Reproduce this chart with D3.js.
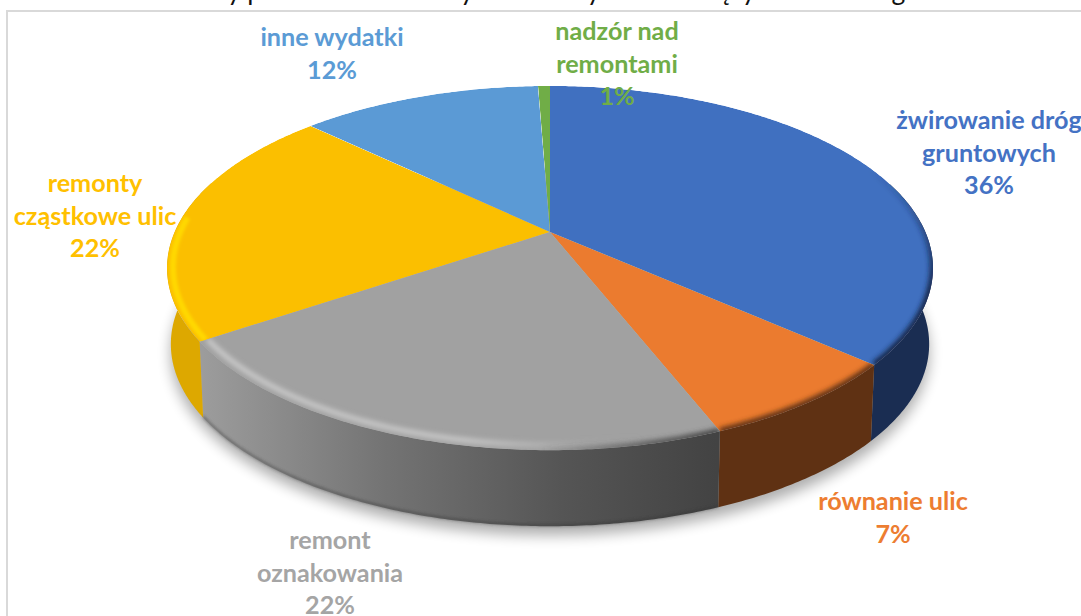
<!DOCTYPE html>
<html><head><meta charset="utf-8">
<script src="https://cdnjs.cloudflare.com/ajax/libs/d3/7.8.5/d3.min.js"></script>
<style>html,body{margin:0;padding:0;background:#fff;overflow:hidden}svg{display:block}text{font-family:Lato,"Open Sans",sans-serif}</style>
</head><body><div id="c"></div>
<script>
const titleText = "Procentowy podział kosztów wydatkowanych na bieżący remont dróg i mostów";
const categories = [["żwirowanie dróg","gruntowych"],["równanie ulic"],["remont","oznakowania"],["remonty","cząstkowe ulic"],["inne wydatki"],["nadzór nad","remontami"]];
const shares = [36.49,7.49,21.61,21.5,12.3,0.61];
const faceColors = ["#4070c0","#eb7b2f","#a1a1a1","#fbbf00","#5b9ad5","#70ad47"];
const rimColors = ["#1a2d52","#5f3113","url(#rimGray)","#dda800","#33597f","#41662a"];
const labelColors = ["#4472c4","#ed7d31","#a5a5a5","#ffc000","#5b9bd5","#70ad47"];
const labelAnchors = [[989,129],[893,510],[330,549],[95,192],[332,46],[617,40]];
const W=1081,H=616,cx=550,apexY=232,k=0.198,B=375.4,A=175,depth=76,shrink=0.99;

const svg=d3.select("#c").append("svg").attr("width",W).attr("height",H);
const defs=svg.append("defs");
const blur=(id,s)=>defs.append("filter").attr("id",id).attr("x","-20%").attr("y","-20%").attr("width","140%").attr("height","140%").append("feGaussianBlur").attr("stdDeviation",s);
blur("sh",7);blur("b2",2.4);blur("b1",1.4);
const grad=(id,x1,y1,x2,y2,stops)=>{const g=defs.append("linearGradient").attr("id",id).attr("gradientUnits","userSpaceOnUse").attr("x1",x1).attr("y1",y1).attr("x2",x2).attr("y2",y2);
 stops.forEach(s=>g.append("stop").attr("offset",s[0]).attr("stop-color",s[1]).attr("stop-opacity",s[2]===undefined?1:s[2]));};
grad("rimGray",203,0,716,0,[[0,"#9c9c9c"],[0.35,"#747474"],[0.7,"#555555"],[1,"#434343"]]);
grad("bevGray",203,0,640,0,[[0,"#cbcbcb"],[0.6,"#c8c8c8"],[0.85,"#a8a8a8"],[1,"#a1a1a1",0]]);
grad("bevGrayDark",540,0,720,0,[[0,"#4a4a4a",0],[0.6,"#505050",0.8],[1,"#444",1]]);
grad("bevBlue",0,170,0,290,[[0,"#14264a",0],[1,"#14264a",1]]);

const project=(t,r=1)=>{const u=r*Math.sin(t),v=-r*Math.cos(t),d=1-k*v;return [cx+B*u/d,apexY+A*v/d];};
const lowered=(t)=>{const p=project(t);return [cx+(p[0]-cx)*shrink,p[1]+depth];};
const line=d3.line();
const samples=(a,b,n=2)=>{const c=Math.max(n,Math.ceil(Math.abs(b-a)/0.01));return d3.range(c+1).map(i=>a+(b-a)*i/c);};
const pie=d3.pie().sort(null)(shares);

svg.append("path").attr("d",`M7,${H+5}V11H${W+5}`).attr("fill","none").attr("stroke","#d9d9d9").attr("stroke-width",2);
svg.append("text").attr("x",560).attr("y",-0.5).attr("text-anchor","middle").attr("font-size",26.5).attr("fill","#111").text(titleText);

const all=samples(0,2*Math.PI);
svg.append("path").attr("d",line(all.map(t=>{const p=lowered(t);return [p[0],p[1]+9];}))+"Z").attr("fill","#000").attr("opacity",0.32).attr("filter","url(#sh)");

const rimG=svg.append("g");
pie.forEach((s,i)=>{
  const ts=samples(s.startAngle,s.endAngle).filter(t=>-Math.cos(t)>-0.3);
  if(ts.length<2)return;
  const pts=ts.map(t=>project(t)).concat(ts.slice().reverse().map(t=>lowered(t)));
  rimG.append("path").attr("d",line(pts)+"Z").attr("fill",rimColors[i]);
});
const gs=pie[2];
rimG.append("path").attr("d",line(samples(gs.startAngle,gs.endAngle).map(lowered).map(p=>[p[0],p[1]-1]))).attr("fill","none").attr("stroke","#333").attr("stroke-width",2).attr("opacity",0.55).attr("filter","url(#b1)");

const wedge=s=>line([[cx,apexY]].concat(samples(s.startAngle,s.endAngle).map(t=>project(t))))+"Z";
const faces=svg.append("g");
pie.forEach((s,i)=>{
  defs.append("clipPath").attr("id","cl"+i).append("path").attr("d",wedge(s));
  const g=faces.append("g").attr("clip-path",`url(#cl${i})`);
  g.append("path").attr("d",wedge(s)).attr("fill",faceColors[i]);
  const arc=(r,a=s.startAngle,b=s.endAngle)=>line(samples(a,b).map(t=>project(t,r)));
  const band=(d,stroke,w,f)=>g.append("path").attr("d",d).attr("fill","none").attr("stroke",stroke).attr("stroke-width",w).attr("filter",`url(#${f})`);
  if(i===0) band(arc(1),"url(#bevBlue)",7,"b2");
  if(i===1) band(arc(1),"#5f3113",7,"b2");
  if(i===2){ band(arc(0.98),"url(#bevGray)",5,"b2"); band(arc(1),"url(#bevGrayDark)",7,"b2"); }
  if(i===3) band(arc(0.985,s.startAngle,s.startAngle+(s.endAngle-s.startAngle)*0.5),"#ffd800",6,"b1");
});

const fmt=d3.format(".0%"),tot=d3.sum(shares);
categories.forEach((lines,i)=>{
  const rows=lines.concat(fmt(shares[i]/tot));
  const t=svg.append("text").attr("text-anchor","middle").attr("font-size",25.2).attr("font-weight",700).attr("fill",labelColors[i]);
  rows.forEach((r,j)=>t.append("tspan").attr("x",labelAnchors[i][0]).attr("y",labelAnchors[i][1]+j*32.5).text(r));
});
</script></body></html>
